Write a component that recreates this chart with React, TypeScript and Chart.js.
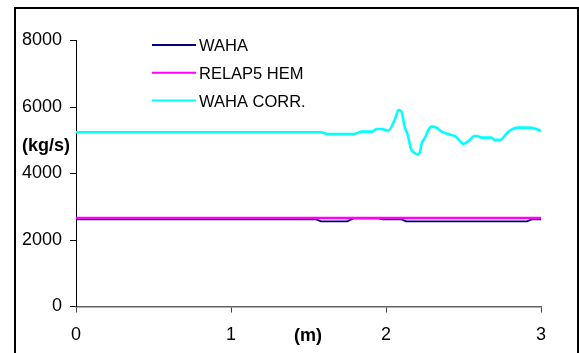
import React, { useEffect, useRef } from 'react';
import { Chart, registerables } from 'chart.js';

Chart.register(...registerables);

const seriesNames = ['WAHA', 'RELAP5 HEM', 'WAHA CORR.'];
const seriesColors = ['#000080', '#FF00FF', '#00FFFF'];

const wahaX = [0, 1.55, 1.58, 1.75, 1.79, 1.95, 1.98, 2.1, 2.13, 2.91, 2.94, 3.0];
const wahaY = [2620, 2620, 2560, 2560, 2650, 2650, 2620, 2620, 2560, 2560, 2620, 2620];

const relapX = [0, 3.0];
const relapY = [2660, 2660];

const corrX = [0, 1.58, 1.62, 1.79, 1.845, 1.91, 1.94, 1.97, 2.015, 2.06, 2.08, 2.1, 2.12, 2.14, 2.16, 2.187, 2.2, 2.22, 2.23, 2.25, 2.28, 2.295, 2.32, 2.36, 2.4, 2.456, 2.48, 2.5, 2.54, 2.57, 2.585, 2.617, 2.68, 2.7, 2.735, 2.79, 2.853, 2.91, 2.97, 3.0];
const corrY = [5240, 5240, 5185, 5185, 5260, 5260, 5340, 5340, 5290, 5660, 5910, 5860, 5410, 5160, 4760, 4610, 4570, 4660, 4910, 5060, 5360, 5410, 5390, 5260, 5190, 5090, 4960, 4890, 5010, 5130, 5130, 5080, 5080, 5010, 5010, 5260, 5380, 5380, 5340, 5280];

const xTicks = [0, 1, 2, 3];
const yTicks = [0, 2000, 4000, 6000, 8000];
const xTitle = '(m)';
const yTitle = '(kg/s)';

const FONT = '"Liberation Sans", Arial, sans-serif';

function pts(xs: number[], ys: number[]) {
  return xs.map((x, i) => ({ x, y: ys[i] }));
}

export default function App() {
  const ref = useRef<HTMLCanvasElement>(null);
  useEffect(() => {
    document.body.style.margin = '0';
    const canvas = ref.current!;
    const overlay = {
      id: 'overlay',
      afterDraw(chart: any) {
        const ctx = chart.ctx as CanvasRenderingContext2D;
        ctx.save();
        // frame
        ctx.strokeStyle = '#000';
        ctx.lineWidth = 2;
        ctx.beginPath();
        ctx.moveTo(15, 400);
        ctx.lineTo(15, 8);
        ctx.lineTo(578, 8);
        ctx.lineTo(578, 400);
        ctx.stroke();
        // legend
        const lineYs = [45, 72.7, 100.5];
        const widths = [1.8, 2, 2.2];
        ctx.font = `16.5px ${FONT}`;
        ctx.textBaseline = 'alphabetic';
        ctx.textAlign = 'left';
        seriesNames.forEach((n, i) => {
          ctx.strokeStyle = seriesColors[i];
          ctx.lineWidth = widths[i];
          ctx.beginPath();
          ctx.moveTo(152, lineYs[i]);
          ctx.lineTo(196, lineYs[i]);
          ctx.stroke();
          ctx.fillStyle = '#000';
          ctx.fillText(n, 199, lineYs[i] + 6);
        });
        // axis titles
        ctx.font = `bold 18px ${FONT}`;
        ctx.textAlign = 'center';
        ctx.textBaseline = 'middle';
        ctx.fillText(yTitle, 46, 146);
        ctx.fillText(xTitle, 308, 336);
        ctx.restore();
      },
    };
    const chart = new Chart(canvas, {
      type: 'line',
      data: {
        datasets: [
          {
            label: seriesNames[1],
            data: pts(relapX, relapY),
            borderColor: seriesColors[1],
            borderWidth: 2.5,
            pointRadius: 0,
            order: 1,
          },
          {
            label: seriesNames[0],
            data: pts(wahaX, wahaY),
            borderColor: seriesColors[0],
            borderWidth: 1.8,
            pointRadius: 0,
            order: 2,
          },
          {
            label: seriesNames[2],
            data: pts(corrX, corrY),
            borderColor: seriesColors[2],
            borderWidth: 2.6,
            pointRadius: 0,
            cubicInterpolationMode: 'monotone',
            order: 3,
          },
        ],
      },
      options: {
        animation: false,
        responsive: false,
        layout: { padding: { left: 0, top: 40.5, right: 38, bottom: 0 } },
        plugins: { legend: { display: false }, tooltip: { enabled: false } },
        scales: {
          x: {
            type: 'linear',
            min: 0,
            max: 3,
            afterBuildTicks: (s: any) => {
              s.ticks = xTicks.map((v) => ({ value: v }));
            },
            afterFit: (s: any) => {
              s.height = 46.5;
            },
            grid: { display: true, drawOnChartArea: false, drawTicks: true, tickLength: 6, color: '#404040', lineWidth: 1 },
            border: { display: true, color: '#606060', width: 1.5 },
            ticks: { color: '#000', font: { family: FONT, size: 18 }, padding: 12, maxRotation: 0, callback: (v: any) => String(v) },
          },
          y: {
            type: 'linear',
            min: 0,
            max: 8000,
            afterBuildTicks: (s: any) => {
              s.ticks = yTicks.map((v) => ({ value: v }));
            },
            afterFit: (s: any) => {
              s.width = 76;
            },
            grid: { display: true, drawOnChartArea: false, drawTicks: true, tickLength: 6, color: '#000', lineWidth: 1 },
            border: { display: true, color: '#000', width: 1 },
            ticks: { color: '#000', font: { family: FONT, size: 18 }, padding: 8, callback: (v: any) => String(v) },
          },
        },
      },
      plugins: [overlay],
    } as any);
    return () => chart.destroy();
  }, []);
  return (
    <div style={{ width: 579, height: 353, position: 'relative' }}>
      <canvas ref={ref} width={579} height={353} />
    </div>
  );
}
